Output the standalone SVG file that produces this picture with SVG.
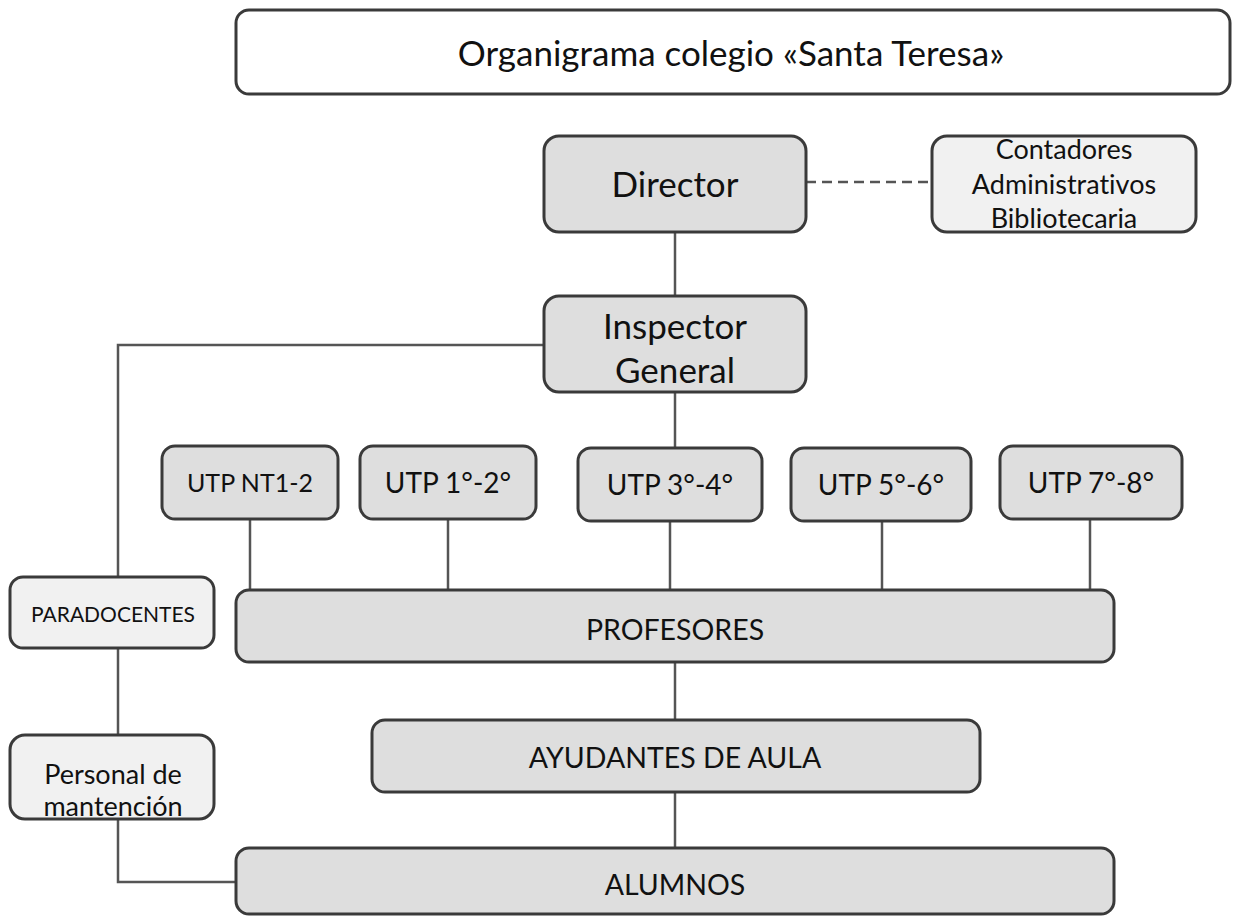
<svg xmlns="http://www.w3.org/2000/svg" width="1233" height="917" viewBox="0 0 1233 917">
<style>
.box{stroke:#3a3a3a;stroke-width:3;}
.dark{fill:#dedede;}
.light{fill:#f1f1f1;}
.white{fill:#ffffff;}
.t{font-family:Lato,"Open Sans","Liberation Sans",sans-serif;fill:#111;text-anchor:middle;dominant-baseline:central;font-variant-ligatures:none;}
.ln{stroke:#555;stroke-width:2.5;fill:none;}
</style>
<rect width="1233" height="917" fill="#ffffff"/>
<g id="connectors">
<line class="ln" x1="806" y1="182" x2="932" y2="182" stroke-dasharray="10,6"/>
<line class="ln" x1="675" y1="232" x2="675" y2="296"/>
<polyline class="ln" points="544,345 118,345 118,577"/>
<line class="ln" x1="675" y1="392" x2="675" y2="448"/>
<line class="ln" x1="250" y1="519" x2="250" y2="590"/>
<line class="ln" x1="448" y1="519" x2="448" y2="590"/>
<line class="ln" x1="670" y1="521" x2="670" y2="590"/>
<line class="ln" x1="882" y1="521" x2="882" y2="590"/>
<line class="ln" x1="1090" y1="519" x2="1090" y2="590"/>
<line class="ln" x1="118" y1="648" x2="118" y2="735"/>
<line class="ln" x1="675" y1="662" x2="675" y2="720"/>
<line class="ln" x1="675" y1="792" x2="675" y2="848"/>
<polyline class="ln" points="118,818 118,882 236,882"/>
</g>
<g id="title"><rect class="box white" x="236" y="10" width="994" height="84" rx="13"/><text class="t" x="731" y="52" font-size="35">Organigrama colegio «Santa Teresa»</text></g>
<g id="director"><rect class="box dark" x="544" y="136" width="262" height="96" rx="15"/><text class="t" x="675" y="183" font-size="35">Director</text></g>
<g id="staff"><rect class="box light" x="932" y="136" width="264" height="96" rx="15"/><text class="t" x="1064" y="148" font-size="27">Contadores</text><text class="t" x="1064" y="183" font-size="27">Administrativos</text><text class="t" x="1064" y="217" font-size="27">Bibliotecaria</text></g>
<g id="inspector"><rect class="box dark" x="544" y="296" width="262" height="96" rx="15"/><text class="t" x="675" y="325" font-size="35">Inspector</text><text class="t" x="675" y="369" font-size="35">General</text></g>
<g id="utp-nt"><rect class="box dark" x="162" y="446" width="176" height="73" rx="13"/><text class="t" x="250" y="482" font-size="25">UTP NT1-2</text></g>
<g id="utp-12"><rect class="box dark" x="360" y="446" width="176" height="73" rx="13"/><text class="t" x="448" y="482" font-size="28">UTP 1°-2°</text></g>
<g id="utp-34"><rect class="box dark" x="578" y="448" width="184" height="73" rx="13"/><text class="t" x="670" y="484" font-size="28">UTP 3°-4°</text></g>
<g id="utp-56"><rect class="box dark" x="791" y="448" width="180" height="73" rx="13"/><text class="t" x="881" y="484" font-size="28">UTP 5°-6°</text></g>
<g id="utp-78"><rect class="box dark" x="1000" y="446" width="182" height="73" rx="13"/><text class="t" x="1091" y="482" font-size="28">UTP 7°-8°</text></g>
<g id="paradocentes"><rect class="box light" x="10" y="577" width="204" height="71" rx="13"/><text class="t" x="113" y="613" font-size="21">PARADOCENTES</text></g>
<g id="profesores"><rect class="box dark" x="236" y="590" width="878" height="72" rx="13"/><text class="t" x="675" y="629" font-size="28.5">PROFESORES</text></g>
<g id="mantencion"><rect class="box light" x="10" y="735" width="204" height="84" rx="15"/><text class="t" x="113" y="773" font-size="27">Personal de</text><text class="t" x="113" y="805" font-size="27">mantención</text></g>
<g id="ayudantes"><rect class="box dark" x="372" y="720" width="608" height="72" rx="13"/><text class="t" x="675" y="757" font-size="28.5">AYUDANTES DE AULA</text></g>
<g id="alumnos"><rect class="box dark" x="236" y="848" width="878" height="66" rx="13"/><text class="t" x="675" y="884" font-size="28.5">ALUMNOS</text></g>
</svg>
